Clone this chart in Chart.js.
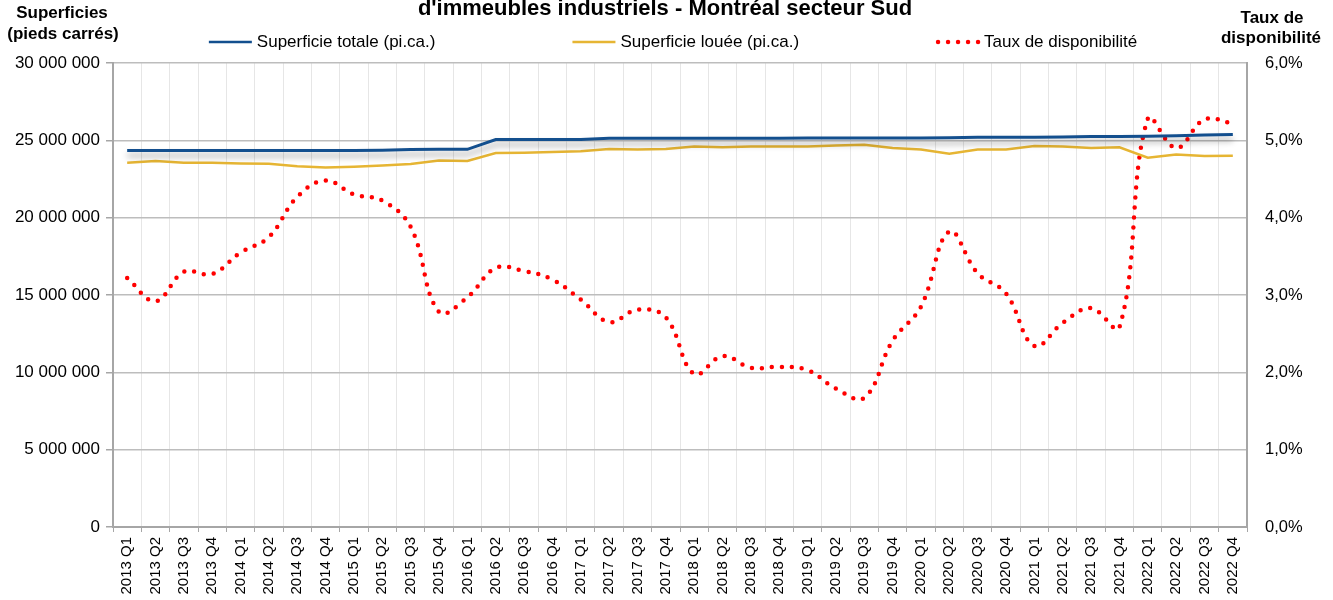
<!DOCTYPE html>
<html lang="fr">
<head>
  <meta charset="UTF-8" />
  <title>Superficies et taux de disponibilité - Montréal secteur Sud</title>
  <script src="https://cdn.jsdelivr.net/npm/chart.js"></script>
  <style>
    html, body { margin: 0; padding: 0; background: #fff; }
    #wrap { width: 1333px; height: 600px; }
  </style>
</head>
<body>
  <div id="wrap">
    <canvas id="superficiesChart" width="1333" height="600"></canvas>
  </div>

  <script>
    const trimestres = [
      '2013 Q1', '2013 Q2', '2013 Q3', '2013 Q4',
      '2014 Q1', '2014 Q2', '2014 Q3', '2014 Q4',
      '2015 Q1', '2015 Q2', '2015 Q3', '2015 Q4',
      '2016 Q1', '2016 Q2', '2016 Q3', '2016 Q4',
      '2017 Q1', '2017 Q2', '2017 Q3', '2017 Q4',
      '2018 Q1', '2018 Q2', '2018 Q3', '2018 Q4',
      '2019 Q1', '2019 Q2', '2019 Q3', '2019 Q4',
      '2020 Q1', '2020 Q2', '2020 Q3', '2020 Q4',
      '2021 Q1', '2021 Q2', '2021 Q3', '2021 Q4',
      '2022 Q1', '2022 Q2', '2022 Q3', '2022 Q4'
    ];

    // pi.ca.
    const superficieTotale = [
      24350000, 24350000, 24350000, 24350000,
      24350000, 24350000, 24350000, 24350000,
      24350000, 24360000, 24400000, 24420000,
      24420000, 25050000, 25050000, 25050000,
      25060000, 25130000, 25130000, 25140000,
      25140000, 25140000, 25140000, 25140000,
      25150000, 25150000, 25150000, 25150000,
      25150000, 25160000, 25200000, 25200000,
      25200000, 25210000, 25250000, 25250000,
      25270000, 25300000, 25350000, 25370000
    ];

    const superficieLouee = [
      23550000, 23660000, 23550000, 23550000,
      23500000, 23480000, 23330000, 23250000,
      23300000, 23380000, 23470000, 23700000,
      23660000, 24180000, 24200000, 24250000,
      24300000, 24440000, 24400000, 24440000,
      24600000, 24550000, 24600000, 24600000,
      24600000, 24670000, 24720000, 24500000,
      24400000, 24140000, 24400000, 24400000,
      24630000, 24600000, 24500000, 24550000,
      23880000, 24090000, 23980000, 24000000
    ];

    // %
    const tauxDisponibilite = [
      3.22, 2.92, 3.30, 3.27,
      3.55, 3.75, 4.27, 4.48,
      4.30, 4.22, 3.88, 2.78,
      2.97, 3.35, 3.31, 3.20,
      2.94, 2.65, 2.81, 2.71,
      1.98, 2.21, 2.06, 2.07,
      2.03, 1.79, 1.67, 2.41,
      2.85, 3.82, 3.28, 3.02,
      2.34, 2.64, 2.83, 2.58,
      5.28, 4.90, 5.27, 5.22
    ];

    const superficieTicks = [0, 5000000, 10000000, 15000000, 20000000, 25000000, 30000000];
    const tauxTicks = [0, 1, 2, 3, 4, 5, 6];

    const BLEU = '#134f8e';
    const OR = '#e6b533';
    const ROUGE = '#ff0000';
    const POLICE = "'Liberation Sans', Arial, sans-serif";

    Chart.defaults.font.family = POLICE;
    Chart.defaults.color = '#000';

    function espaces(v) {
      return String(v).replace(/\B(?=(\d{3})+(?!\d))/g, ' ');
    }

    // ombre portée sous la ligne de superficie totale
    const ombre = {
      id: 'ombre',
      beforeDatasetDraw(chart, args) {
        if (args.index !== 0) return;
        const ctx = chart.ctx;
        ctx.save();
        ctx.shadowColor = 'rgba(0,0,0,0.35)';
        ctx.shadowBlur = 6;
        ctx.shadowOffsetY = 5;
      },
      afterDatasetDraw(chart, args) {
        if (args.index !== 0) return;
        chart.ctx.restore();
      }
    };

    // titre, titres d'axes et légende au-dessus de la zone du graphique
    const entete = {
      id: 'entete',
      afterDraw(chart) {
        const ctx = chart.ctx;
        ctx.save();
        ctx.fillStyle = '#000';
        ctx.textBaseline = 'middle';
        ctx.textAlign = 'center';

        ctx.font = 'bold 22px ' + POLICE;
        ctx.fillText("d'immeubles industriels - Montréal secteur Sud", 665, 9);

        ctx.font = 'bold 17px ' + POLICE;
        ctx.fillText('Superficies', 62, 13);
        ctx.fillText('(pieds carrés)', 63, 34);
        ctx.fillText('Taux de', 1272, 18);
        ctx.fillText('disponibilité', 1271, 38);

        // légende
        ctx.font = '17px ' + POLICE;
        ctx.textAlign = 'left';
        const y = 42;
        const symbole = 43, ecart = 5, espace = 137;
        const items = chart.data.datasets.map(ds => ({
          texte: ds.label,
          couleur: ds.borderColor,
          pointille: !!ds.borderDash,
          largeur: symbole + ecart + ctx.measureText(ds.label).width
        }));
        const total = items.reduce((s, it) => s + it.largeur, 0) + espace * (items.length - 1);
        let x = 673 - total / 2;
        items.forEach(it => {
          ctx.strokeStyle = it.couleur;
          ctx.beginPath();
          if (it.pointille) {
            ctx.lineWidth = 4.5;
            ctx.lineCap = 'round';
            ctx.setLineDash([0, 10]);
            ctx.moveTo(x + 2, y);
            ctx.lineTo(x + symbole, y);
          } else {
            ctx.lineWidth = 2.5;
            ctx.lineCap = 'butt';
            ctx.setLineDash([]);
            ctx.moveTo(x, y);
            ctx.lineTo(x + symbole, y);
          }
          ctx.stroke();
          ctx.setLineDash([]);
          ctx.fillText(it.texte, x + symbole + ecart, y);
          x += it.largeur + espace;
        });
        ctx.restore();
      }
    };

    const ctx = document.getElementById('superficiesChart').getContext('2d');
    new Chart(ctx, {
      type: 'line',
      data: {
        labels: trimestres,
        datasets: [
          {
            label: 'Superficie totale (pi.ca.)',
            data: superficieTotale,
            borderColor: BLEU,
            borderWidth: 3,
            pointRadius: 0,
            tension: 0,
            yAxisID: 'y'
          },
          {
            label: 'Superficie louée (pi.ca.)',
            data: superficieLouee,
            borderColor: OR,
            borderWidth: 2.5,
            pointRadius: 0,
            tension: 0,
            yAxisID: 'y'
          },
          {
            label: 'Taux de disponibilité',
            data: tauxDisponibilite,
            borderColor: ROUGE,
            borderWidth: 4.5,
            borderDash: [0, 10],
            borderCapStyle: 'round',
            pointRadius: 0,
            tension: 0.4,
            yAxisID: 'y1'
          }
        ]
      },
      options: {
        responsive: false,
        animation: false,
        layout: { padding: { top: 63, left: 0, right: 0, bottom: 0 } },
        plugins: {
          legend: { display: false },
          title: { display: false },
          tooltip: { enabled: false }
        },
        scales: {
          x: {
            offset: true,
            grid: {
              offset: true,
              color: '#e6e6e6',
              lineWidth: 1,
              tickColor: '#a6a6a6',
              tickLength: 5
            },
            border: { color: '#a6a6a6', width: 2 },
            ticks: {
              autoSkip: false,
              minRotation: 90,
              maxRotation: 90,
              padding: 5,
              font: { size: 15 }
            },
            afterFit(scale) { scale.height = 73; }
          },
          y: {
            position: 'left',
            min: 0,
            max: 30000000,
            afterBuildTicks(scale) {
              scale.ticks = superficieTicks.map(v => ({ value: v }));
            },
            grid: {
              color: '#bdbdbd',
              lineWidth: 1.5,
              tickColor: '#a6a6a6',
              tickLength: 7
            },
            border: { color: '#a6a6a6', width: 2 },
            ticks: {
              padding: 6,
              font: { size: 17 },
              callback: v => espaces(v)
            },
            afterFit(scale) { scale.width = 113; }
          },
          y1: {
            position: 'right',
            min: 0,
            max: 6,
            afterBuildTicks(scale) {
              scale.ticks = tauxTicks.map(v => ({ value: v }));
            },
            grid: { drawOnChartArea: false, drawTicks: false },
            border: { color: '#a6a6a6', width: 2 },
            ticks: {
              padding: 18,
              font: { size: 16.5 },
              callback: v => v.toFixed(1).replace('.', ',') + '%'
            },
            afterFit(scale) { scale.width = 86; }
          }
        }
      },
      plugins: [ombre, entete]
    });
  </script>
</body>
</html>
